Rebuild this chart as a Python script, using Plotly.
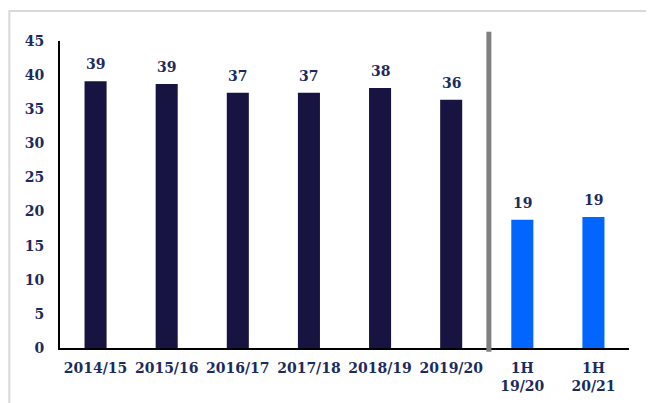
import plotly.graph_objects as go

categories = ["2014/15", "2015/16", "2016/17", "2017/18", "2018/19", "2019/20", "1H<br>19/20", "1H<br>20/21"]
values = [39.1, 38.7, 37.4, 37.4, 38.1, 36.4, 18.8, 19.2]
bar_colors = ["#181442"] * 6 + ["#0066ff"] * 2
y_ticks = [0, 5, 10, 15, 20, 25, 30, 35, 40, 45]

FONT = "DejaVu Serif"
TXT = "#1c2b5e"

fig = go.Figure()
fig.add_trace(go.Bar(
    x=categories, y=values,
    marker=dict(color=bar_colors, line=dict(width=0)),
    hoverinfo="skip",
))

for c, v in zip(categories, values):
    fig.add_annotation(x=c, y=v, text=f"<b>{round(v)}</b>", showarrow=False,
                       yshift=17, font=dict(family=FONT, size=14, color=TXT))

# separator line
fig.add_shape(type="line", xref="x", yref="paper", x0=5.53, x1=5.53, y0=-0.012, y1=1.03,
              line=dict(color="#808080", width=5))
# outer frame
fig.add_shape(type="rect", xref="paper", yref="paper", x0=-0.089, x1=1.1, y0=-0.3, y1=1.098,
              line=dict(color="#d9d9d9", width=2), fillcolor="rgba(0,0,0,0)", layer="below")

fig.update_layout(
    width=646, height=395,
    margin=dict(l=52, r=25, t=33, b=55),
    plot_bgcolor="white", paper_bgcolor="white",
    bargap=0.69,
    showlegend=False,
    font=dict(family=FONT, size=14, color=TXT),
    xaxis=dict(
        showline=True, linecolor="black", linewidth=2, ticks="",
        showgrid=False, tickfont=dict(family=FONT, size=14, color=TXT, weight="bold"),
        ticklabelstandoff=6, automargin=False,
    ),
    yaxis=dict(
        range=[0, 45], tickvals=y_ticks, showline=True, linecolor="black", linewidth=2,
        showgrid=False, zeroline=False, ticks="",
        tickfont=dict(family=FONT, size=14, color=TXT, weight="bold"),
        ticklabelstandoff=11, automargin=False,
    ),
)

fig.write_html("out.html")
